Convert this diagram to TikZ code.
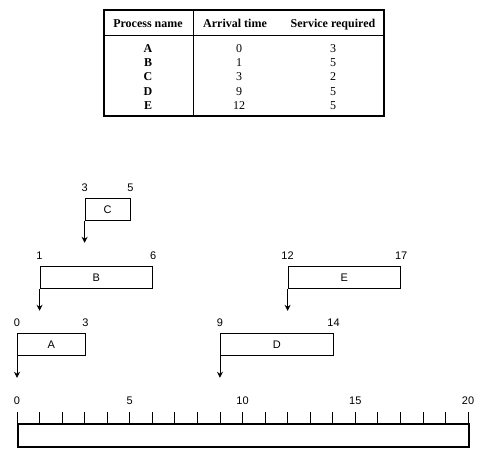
\documentclass[tikz,border=0pt]{standalone}
\usepackage{fontspec}
\setmainfont{Liberation Serif}
\setsansfont{Liberation Sans}
\usetikzlibrary{arrows.meta}
\usetikzlibrary{positioning}
\tikzset{
procbox/.style = {draw, rectangle, line width=0.8pt, inner sep=0pt,
                  minimum height=22pt, anchor=north west,
                  font=\sffamily\fontsize{11}{13}\selectfont},
numlbl/.style  = {inner sep=0pt, font=\sffamily\fontsize{11}{13}\selectfont},
hdr/.style     = {inner sep=0pt, anchor=base, font=\bfseries\fontsize{12}{14}\selectfont},
cell/.style    = {inner sep=0pt, anchor=base, font=\fontsize{12}{14}\selectfont},
arr/.style     = {-{Stealth[length=6pt,width=6pt]}, line width=0.8pt}
}
% one process: name, start, end, top of box
\newcommand{\proc}[4]{
  \node[procbox, minimum width={(#3-#2)*22.55pt}] (#1) at ({17+22.55*#2},#4) {#1};
  \node[numlbl, above=6pt of #1.north west] (#1start) {#2};
  \node[numlbl, above=6pt of #1.north east] (#1stop) {#3};
  \coordinate[below=22pt of #1.south west] (#1tip);
  \draw[arr] (#1.south west) -- (#1tip);
}

\begin{document}
\begin{tikzpicture}[x=1pt, y=-1pt]
        \useasboundingbox (0,0) rectangle (487,453);
        % table
        \draw[line width=1.6pt] (104,10) rectangle (384,116);
        \draw[line width=0.8pt] (104,35) -- (384,35);
        \draw[line width=0.8pt] (193,10) -- (193,116);
        \node[hdr] (hname) at (148,27) {Process name};
        \node[hdr] (harr) at (235,27) {Arrival time};
        \node[hdr] (hserv) at (333,27) {Service required};
        \foreach \p/\a/\s [count=\i] in {A/0/3, B/1/5, C/3/2, D/9/5, E/12/5} {
          \node[cell, font=\bfseries\fontsize{12}{14}\selectfont] (name\p) at (148,{38+14.25*\i}) {\p};
          \node[cell] (arr\p) at (239,{38+14.25*\i}) {\a};
          \node[cell] (serv\p) at (333,{38+14.25*\i}) {\s};
        }
        % processes
        \proc{C}{3}{5}{198};
        \proc{B}{1}{6}{266};
        \proc{E}{12}{17}{266};
        \proc{A}{0}{3}{333};
        \proc{D}{9}{14}{333};
        % time line
        \node[draw, rectangle, line width=2.4pt, inner sep=0pt, anchor=north west,
              minimum width=451pt, minimum height=23pt] (timeline) at (17,423) {};
        \foreach \t in {0,...,20}
          \draw[line width=0.8pt] ({17+22.55*\t},412) -- ({17+22.55*\t},423);
        \foreach \t in {0,5,...,20}
          \node[numlbl, anchor=south] (tick\t) at ({17+22.55*\t},405) {\t};
\end{tikzpicture}
\end{document}
